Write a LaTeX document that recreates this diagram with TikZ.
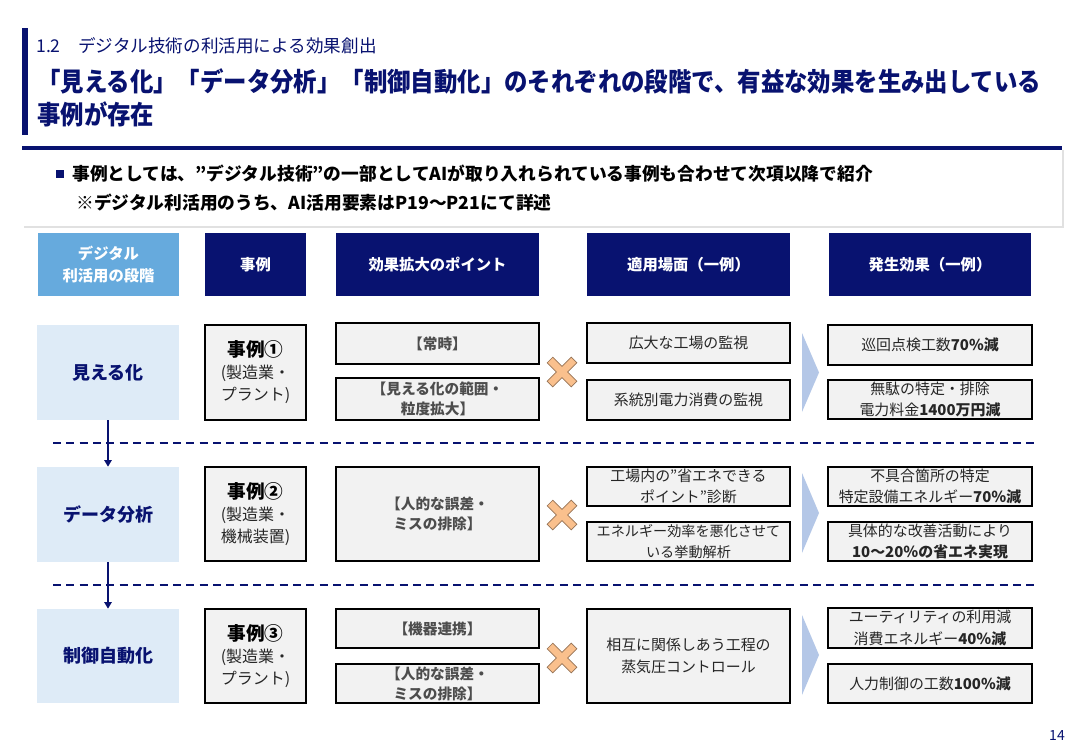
\documentclass[tikz,border=0pt]{standalone}
\usepackage{fontspec}
\setmainfont{Noto Sans CJK JP}
\newfontfamily\titlefont[FakeStretch=0.9]{Noto Sans CJK JP}
\usetikzlibrary{arrows.meta}
\definecolor{navy}{RGB}{8,18,112}
\definecolor{hdrblue}{RGB}{102,170,221}
\definecolor{stagebg}{RGB}{222,235,247}
\definecolor{boxbg}{RGB}{242,242,242}
\definecolor{chev}{RGB}{180,199,231}
\definecolor{xfill}{RGB}{250,192,141}
\definecolor{xline}{RGB}{150,115,85}
\definecolor{txt}{RGB}{38,38,38}
\definecolor{ptxt}{RGB}{77,77,77}
\definecolor{shadowgray}{RGB}{225,225,225}
\begin{document}
\begin{tikzpicture}[x=0.75pt,y=-0.75pt,
  wh/.style 2 args={minimum width=#1*0.75pt, minimum height=#2*0.75pt},
  hdr/.style={fill=navy, text=white, font=\fontsize{11.5}{16}\selectfont\bfseries, align=center, inner sep=0pt},
  hdrlight/.style={hdr, fill=hdrblue},
  stagebox/.style={fill=stagebg, text=navy, font=\fontsize{13.5}{17}\selectfont\bfseries, align=center, inner sep=0pt},
  casebox/.style={fill=boxbg, draw=black, line width=0.8pt, text=txt, font=\fontsize{12}{16.5}\selectfont, align=center, inner sep=0pt},
  ptbox/.style={fill=boxbg, draw=black, line width=0.8pt, text=ptxt, font=\fontsize{11}{15}\selectfont\bfseries, align=center, inner sep=0pt},
  scbox/.style={fill=boxbg, draw=black, line width=0.8pt, text=txt, font=\fontsize{11.2}{16}\selectfont, align=center, inner sep=0pt},
  conn/.style={draw=navy, line width=1.5pt, -{Triangle[width=5.5pt,length=5pt]}},
  dashline/.style={draw=navy, line width=2.2pt, dash pattern=on 6pt off 4pt},
  chevshape/.style={fill=chev, draw=none},
  xmark/.style={fill=xfill, draw=xline, line width=0.5pt},
]
\useasboundingbox[fill=white] (0,0) rectangle (1084,750);

% ---- title area
\fill[navy] (22,28) rectangle (28,135);
\node[anchor=west, inner sep=0pt, text=navy, font=\fontsize{13.2}{15}\selectfont] (sub) at (36,46) {1.2\quad デジタル技術の利活用による効果創出};
\node[anchor=west, inner sep=0pt, text=navy, font=\titlefont\fontsize{19.5}{25}\selectfont\bfseries] (t1) at (37,81) {「見える化」「データ分析」「制御自動化」のそれぞれの段階で、有益な効果を生み出している};
\node[anchor=west, inner sep=0pt, text=navy, font=\titlefont\fontsize{19.5}{25}\selectfont\bfseries] (t2) at (37,114) {事例が存在};

% ---- note box
\fill[shadowgray] (24,150) rectangle (1064,228);
\fill[white] (22,148) rectangle (1062,226);
\fill[navy] (22,146) rectangle (1062,150);
\node[fill=navy, inner sep=0pt, minimum size=6pt] (bul) at (60,174) {};
\node[anchor=west, inner sep=0pt, text=black, font=\fontsize{13.3}{17}\selectfont\bfseries] (n1) at (72,174) {事例としては、”デジタル技術”の一部としてAIが取り入れられている事例も合わせて次項以降で紹介};
\node[anchor=west, inner sep=0pt, text=black, font=\fontsize{13.3}{17}\selectfont\bfseries] (n2) at (76,203) {※デジタル利活用のうち、AI活用要素はP19～P21にて詳述};

% ---- headers
\node[hdrlight, wh={141}{63}] (h1) at (108.5,264.5) {デジタル\\利活用の段階};
\node[hdr, wh={101}{63}] (h2) at (255.5,264.5) {事例};
\node[hdr, wh={203}{63}] (h3) at (437.5,264.5) {効果拡大のポイント};
\node[hdr, wh={203}{63}] (h4) at (688.5,264.5) {適用場面（一例）};
\node[hdr, wh={202}{63}] (h5) at (930,264.5) {発生効果（一例）};

% ---- dashed separators
\coordinate (d1a) at (53,443); \coordinate (d1b) at (1038,443);
\coordinate (d2a) at (53,585); \coordinate (d2b) at (1038,585);
\draw[dashline] (d1a) -- (d1b);
\draw[dashline] (d2a) -- (d2b);

% ---- stage boxes
\node[stagebox, wh={142}{95}] (s1) at (108,372.5) {見える化};
\node[stagebox, wh={142}{95}] (s2) at (108,514.5) {データ分析};
\node[stagebox, wh={142}{94}] (s3) at (108,656) {制御自動化};
\draw[conn] (s1.south) -- (s2.north);
\draw[conn] (s2.south) -- (s3.north);

% ---- case boxes
\node[casebox, wh={101}{95}] (c1) at (255.5,372.5) {{\fontsize{14}{18}\selectfont\bfseries\color{black}事例①}\\(製造業・\\プラント)};
\node[casebox, wh={101}{94}] (c2) at (255.5,514) {{\fontsize{14}{18}\selectfont\bfseries\color{black}事例②}\\(製造業・\\機械装置)};
\node[casebox, wh={101}{94}] (c3) at (255.5,656) {{\fontsize{14}{18}\selectfont\bfseries\color{black}事例③}\\(製造業・\\プラント)};

% ---- point boxes
\node[ptbox, wh={203}{41}] (p1a) at (437.5,343.5) {【常時】};
\node[ptbox, wh={203}{42}] (p1b) at (437.5,399) {【見える化の範囲・\\粒度拡大】};
\node[ptbox, wh={203}{94}] (p2) at (437.5,514) {【人的な誤差・\\ミスの排除】};
\node[ptbox, wh={203}{39}] (p3a) at (437.5,628.5) {【機器連携】};
\node[ptbox, wh={203}{39}] (p3b) at (437.5,683.5) {【人的な誤差・\\ミスの排除】};

% ---- X marks
\foreach \cy in {372,515,658}{
  \begin{scope}[shift={(562,\cy)}, rotate=45]
    \filldraw[xmark] (17,4) -- (4,4) -- (4,17) -- (-4,17) -- (-4,4) -- (-17,4) -- (-17,-4) -- (-4,-4) -- (-4,-17) -- (4,-17) -- (4,-4) -- (17,-4) -- cycle;
  \end{scope}
}

% ---- scene boxes
\node[scbox, wh={203}{40}] (a1a) at (688.5,343) {広大な工場の監視};
\node[scbox, wh={203}{40}] (a1b) at (688.5,400) {系統別電力消費の監視};
\node[scbox, wh={203}{39}] (a2a) at (688.5,486.5) {工場内の”省エネできる\\ポイント”診断};
\node[scbox, wh={203}{39}, font=\fontsize{10.6}{16}\selectfont] (a2b) at (688.5,541.5) {エネルギー効率を悪化させて\\いる挙動解析};
\node[scbox, wh={203}{94}] (a3) at (688.5,656) {相互に関係しあう工程の\\蒸気圧コントロール};

% ---- chevrons
\fill[chevshape] (802,333) -- (819,372.5) -- (802,412) -- cycle;
\fill[chevshape] (802,473) -- (819,513) -- (802,553) -- cycle;
\fill[chevshape] (802,615) -- (819,655) -- (802,695) -- cycle;

% ---- effect boxes
\node[scbox, wh={204}{40}] (e1a) at (930,345) {巡回点検工数\textbf{70\%減}};
\node[scbox, wh={204}{39}] (e1b) at (930,399.5) {無駄の特定・排除\\電力料金\textbf{1400万円減}};
\node[scbox, wh={204}{39}] (e2a) at (930,486.5) {不具合箇所の特定\\特定設備エネルギー\textbf{70％減}};
\node[scbox, wh={204}{39}] (e2b) at (930,541.5) {具体的な改善活動により\\\textbf{10～20％の省エネ実現}};
\node[scbox, wh={204}{40}] (e3a) at (930,628) {ユーティリティの利用減\\消費エネルギー\textbf{40％減}};
\node[scbox, wh={204}{39}] (e3b) at (930,683.5) {人力制御の工数\textbf{100\%減}};

% ---- page number
\node[text=navy, inner sep=0pt, font=\fontsize{10.5}{12}\selectfont] (pg) at (1057,735) {14};
\end{tikzpicture}
\end{document}
